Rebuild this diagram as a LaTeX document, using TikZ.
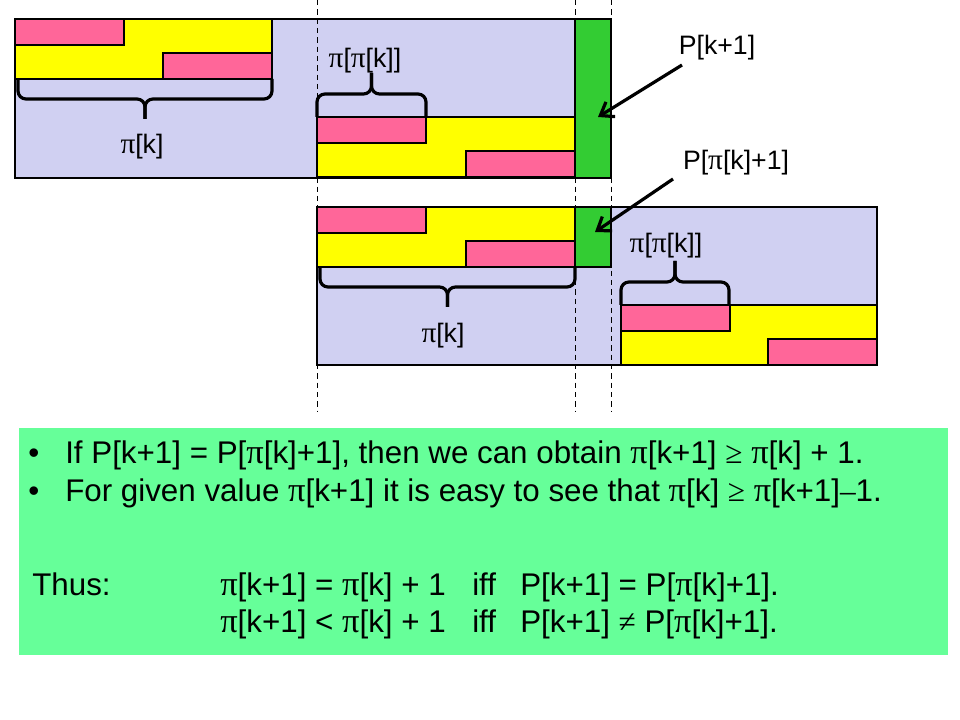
\documentclass[tikz,border=0pt]{standalone}
\usepackage{fontspec}
\setmainfont{Liberation Sans}
\newfontfamily\symfont{Liberation Serif}
\newfontfamily\pifont{Liberation Serif}[Scale=1.1]
\usetikzlibrary{arrows.meta}

\definecolor{lavender}{HTML}{D0D0F2}
\definecolor{pinkbar}{HTML}{FF6699}
\definecolor{yellowbar}{HTML}{FFFF00}
\definecolor{greenbar}{HTML}{33CC33}
\definecolor{notebg}{HTML}{66FF99}

\newcommand{\pii}{{\pifont π}}
\newcommand{\symb}[1]{{\symfont #1}}

\tikzset{
  bar/.style={draw=black, line width=0.8pt},
  curly/.style={draw, line width=2.4pt, rounded corners=6},
  lbl/.style={font=\fontsize{20}{24}\selectfont, inner sep=0pt, anchor=base},
  note/.style={font=\fontsize{23.5}{28}\selectfont, inner sep=0pt, anchor=base west},
  pointer/.style={line width=2.4pt, -{Straight Barb[length=9pt,width=13pt,line width=2.4pt]}},
  guide/.style={line width=0.6pt, dash pattern=on 4pt off 3pt}
}

% pink / yellow / pink pattern: left x, top y, right x
\newcommand{\blocks}[3]{%
  \filldraw[bar, fill=yellowbar] (#1,#2) rectangle (#3,{#2+60});
  \filldraw[bar, fill=pinkbar] (#1,#2) rectangle ({#1+109},{#2+26});
  \filldraw[bar, fill=pinkbar] ({#3-109},{#2+34}) rectangle (#3,{#2+60});
}
% curly braces: tip down and tip up
\newcommand{\bracedown}[3]{%
  \draw[curly] (#1,#3) -- (#1,{#3+20}) -- ({(#1+#2)/2},{#3+20}) -- ({(#1+#2)/2},{#3+40});
  \draw[curly] (#2,#3) -- (#2,{#3+20}) -- ({(#1+#2)/2},{#3+20}) -- ({(#1+#2)/2},{#3+40});
}
\newcommand{\braceup}[3]{%
  \draw[curly] (#1,#3) -- (#1,{#3-23}) -- ({(#1+#2)/2},{#3-23}) -- ({(#1+#2)/2},{#3-44});
  \draw[curly] (#2,#3) -- (#2,{#3-23}) -- ({(#1+#2)/2},{#3-23}) -- ({(#1+#2)/2},{#3-44});
}

\begin{document}
\begin{tikzpicture}[x=0.75pt, y=-0.75pt]
  \useasboundingbox (0,0) rectangle (960,720);
  \fill[white] (0,0) rectangle (960,720);

  % upper strip
  \filldraw[bar, fill=lavender] (15,19) rectangle (575,178);
  \filldraw[bar, fill=greenbar] (575,19) rectangle (611,178);
  \blocks{15}{19}{272}
  \blocks{317}{117}{575}
  \bracedown{18}{272}{79}
  \braceup{317}{426}{117}
  \node[lbl] (topk) at (142,154) {\pii[k]};
  \node[lbl] (toppk) at (365,68) {\pii[\pii[k]]};

  % lower strip
  \filldraw[bar, fill=lavender] (317,207) rectangle (877,365);
  \filldraw[bar, fill=greenbar] (575,207) rectangle (611,267);
  \blocks{317}{207}{575}
  \blocks{621}{305}{877}
  \bracedown{320}{575}{267}
  \braceup{621}{729}{305}
  \node[lbl] (lowk) at (443,342) {\pii[k]};
  \node[lbl] (lowpk) at (666,253) {\pii[\pii[k]]};

  % guides
  \foreach \gx in {317,575,611}
    \draw[guide] (\gx,0) -- (\gx,412);

  % pointers
  \node[lbl] (pk) at (717,55) {P[k+1]};
  \node[lbl] (ppk) at (736,170) {P[\pii[k]+1]};
  \coordinate (pkfrom) at (682,65);
  \coordinate (pkto) at (598,117);
  \coordinate (ppkfrom) at (673,179);
  \coordinate (ppkto) at (595,232);
  \draw[pointer] (pkfrom) -- (pkto);
  \draw[pointer] (ppkfrom) -- (ppkto);

  % notes
  \fill[notebg] (19,428) rectangle (948,655);
  \node[note] (dot1) at (28,463) {•};
  \node[note] (line1) at (65,463)
    {If P[k+1] = P[\pii[k]+1], then we can obtain \pii[k+1] \symb{≥} \pii[k] + 1.};
  \node[note] (dot2) at (28,501) {•};
  \node[note] (line2) at (65,501)
    {For given value \pii[k+1] it is easy to see that \pii[k] \symb{≥} \pii[k+1]\symb{–}1.};
  \node[note] (thus) at (32,595) {Thus:};
  \node[note] (eqlhs) at (220,595) {\pii[k+1] = \pii[k] + 1};
  \node[note] (eqiff) at (472,595) {iff};
  \node[note] (eqrhs) at (520,595) {P[k+1] = P[\pii[k]+1].};
  \node[note] (ltlhs) at (220,632) {\pii[k+1] < \pii[k] + 1};
  \node[note] (ltiff) at (472,632) {iff};
  \node[note] (ltrhs) at (520,632) {P[k+1] \symb{≠} P[\pii[k]+1].};
\end{tikzpicture}
\end{document}
